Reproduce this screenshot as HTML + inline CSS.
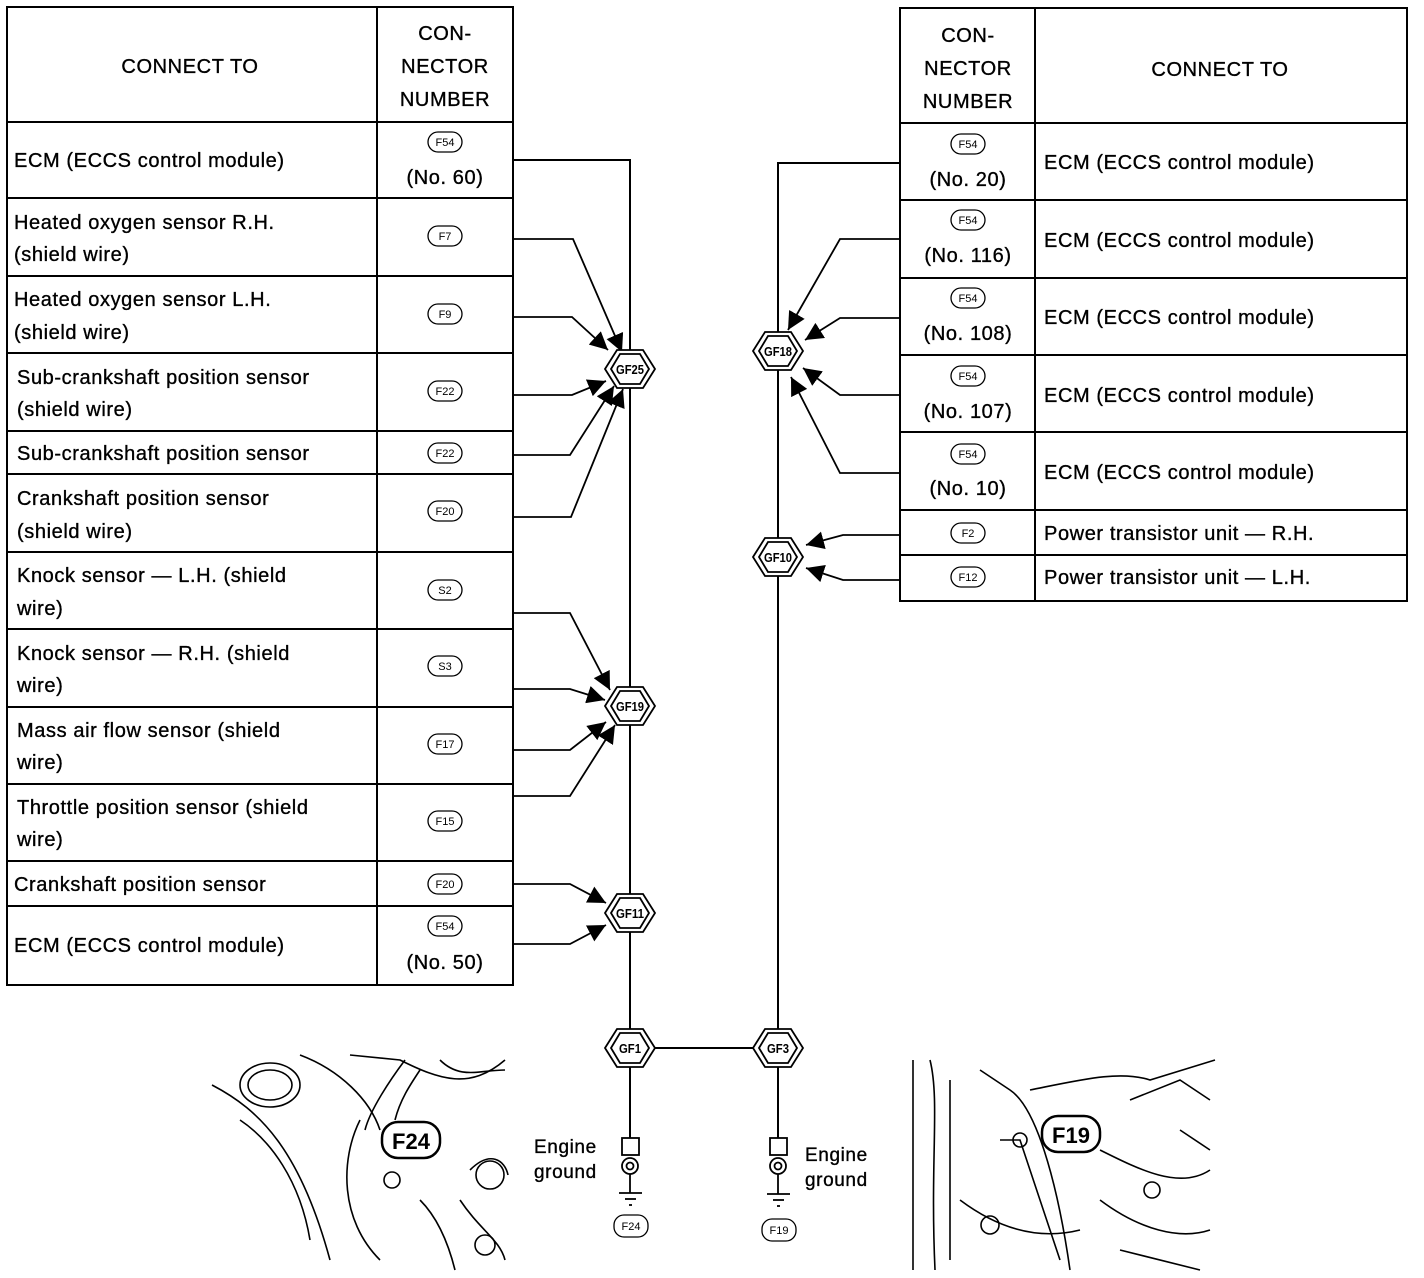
<!DOCTYPE html>
<html><head><meta charset="utf-8"><style>
html,body{margin:0;padding:0;background:#fff;}
svg{display:block;font-family:"Liberation Sans",sans-serif;}
.t{font-size:20px;letter-spacing:0.6px;stroke:#000;stroke-width:0.35px;}
.c{font-size:11px;text-anchor:middle;}
.h{font-size:13px;font-weight:bold;text-anchor:middle;}
</style></head><body>
<svg width="1424" height="1278" viewBox="0 0 1424 1278" xmlns="http://www.w3.org/2000/svg">
<defs>
<marker id="b" viewBox="0 0 10 10" refX="10" refY="5" markerWidth="18" markerHeight="18" markerUnits="userSpaceOnUse" orient="auto"><path d="M0,0L10,5L0,10z"/></marker>
</defs>
<g fill="none" stroke="#000">
<rect x="7" y="7" width="506" height="978" stroke-width="2"/>
<line x1="377" y1="7" x2="377" y2="985" stroke-width="2"/>
<g stroke-width="2">
<line x1="7" y1="122" x2="513" y2="122"/><line x1="7" y1="198" x2="513" y2="198"/><line x1="7" y1="276" x2="513" y2="276"/><line x1="7" y1="353" x2="513" y2="353"/><line x1="7" y1="431" x2="513" y2="431"/><line x1="7" y1="474" x2="513" y2="474"/><line x1="7" y1="552" x2="513" y2="552"/><line x1="7" y1="629" x2="513" y2="629"/><line x1="7" y1="707" x2="513" y2="707"/><line x1="7" y1="784" x2="513" y2="784"/><line x1="7" y1="861" x2="513" y2="861"/><line x1="7" y1="906" x2="513" y2="906"/>
</g>
<rect x="900" y="8" width="507" height="593" stroke-width="2"/>
<line x1="1035" y1="8" x2="1035" y2="601" stroke-width="2"/>
<g stroke-width="2">
<line x1="900" y1="123" x2="1407" y2="123"/><line x1="900" y1="200" x2="1407" y2="200"/><line x1="900" y1="278" x2="1407" y2="278"/><line x1="900" y1="355" x2="1407" y2="355"/><line x1="900" y1="432" x2="1407" y2="432"/><line x1="900" y1="510" x2="1407" y2="510"/><line x1="900" y1="555" x2="1407" y2="555"/>
</g>
<g stroke-width="2">
<polyline points="513,160 630,160 630,1048"/>
<polyline points="900,163 778,163 778,1048"/>
<line x1="630" y1="1048" x2="778" y2="1048"/>
<line x1="630" y1="1048" x2="630" y2="1138"/>
<line x1="778" y1="1048" x2="778" y2="1138"/>
</g>
<g stroke-width="1.8" marker-end="url(#b)">
<polyline points="513,239 573,239 622,352"/>
<polyline points="513,317 572,317 608,350"/>
<polyline points="513,395 572,395 606,381"/>
<polyline points="513,455 570,455 614,386"/>
<polyline points="513,517 571,517 623,389"/>
<polyline points="513,613 570,613 610,690"/>
<polyline points="513,689 570,689 605,700"/>
<polyline points="513,750 570,750 606,722"/>
<polyline points="513,796 570,796 615,725"/>
<polyline points="513,884 570,884 606,903"/>
<polyline points="513,944 570,944 606,925"/>
<polyline points="900,239 840,239 788,330"/>
<polyline points="900,318 840,318 805,340"/>
<polyline points="900,395 840,395 803,368"/>
<polyline points="900,473 840,473 791,377"/>
<polyline points="900,535 843,535 806,545"/>
<polyline points="900,580 843,580 806,568"/>
</g>
</g>
<g stroke="#000" fill="#fff" stroke-width="1.8">
<polygon points="605,369 617,350 643,350 655,369 643,388 617,388"/>
<polygon points="611,369 620,354 640,354 649,369 640,384 620,384"/>
<polygon points="605,706 617,687 643,687 655,706 643,725 617,725"/>
<polygon points="611,706 620,691 640,691 649,706 640,721 620,721"/>
<polygon points="605,913 617,894 643,894 655,913 643,932 617,932"/>
<polygon points="611,913 620,898 640,898 649,913 640,928 620,928"/>
<polygon points="605,1048 617,1029 643,1029 655,1048 643,1067 617,1067"/>
<polygon points="611,1048 620,1033 640,1033 649,1048 640,1063 620,1063"/>
<polygon points="753,351 765,332 791,332 803,351 791,370 765,370"/>
<polygon points="759,351 768,336 788,336 797,351 788,366 768,366"/>
<polygon points="753,557 765,538 791,538 803,557 791,576 765,576"/>
<polygon points="759,557 768,542 788,542 797,557 788,572 768,572"/>
<polygon points="753,1048 765,1029 791,1029 803,1048 791,1067 765,1067"/>
<polygon points="759,1048 768,1033 788,1033 797,1048 788,1063 768,1063"/>
</g>
<g class="h">
<text x="630" y="374" class="h" textLength="28" lengthAdjust="spacingAndGlyphs">GF25</text><text x="630" y="711" class="h" textLength="28" lengthAdjust="spacingAndGlyphs">GF19</text><text x="630" y="918" class="h" textLength="28" lengthAdjust="spacingAndGlyphs">GF11</text><text x="630" y="1053" class="h" textLength="22" lengthAdjust="spacingAndGlyphs">GF1</text>
<text x="778" y="356" class="h" textLength="28" lengthAdjust="spacingAndGlyphs">GF18</text><text x="778" y="562" class="h" textLength="28" lengthAdjust="spacingAndGlyphs">GF10</text><text x="778" y="1053" class="h" textLength="22" lengthAdjust="spacingAndGlyphs">GF3</text>
</g>
<g stroke="#000" fill="#fff" stroke-width="1.8">
<rect x="622" y="1138" width="17" height="17"/><circle cx="630" cy="1166" r="8"/><circle cx="630" cy="1166" r="3.5"/>
<line x1="630" y1="1174" x2="630" y2="1193"/><line x1="619" y1="1193" x2="642" y2="1193"/><line x1="625" y1="1199" x2="636" y2="1199"/><line x1="629" y1="1205" x2="632" y2="1205"/>
<rect x="770" y="1138" width="17" height="17"/><circle cx="778" cy="1166" r="8"/><circle cx="778" cy="1166" r="3.5"/>
<line x1="778" y1="1174" x2="778" y2="1194"/><line x1="767" y1="1194" x2="790" y2="1194"/><line x1="773" y1="1200" x2="784" y2="1200"/><line x1="777" y1="1206" x2="780" y2="1206"/>
</g>
<g stroke="#000" fill="#fff" stroke-width="1.3">
<rect x="428" y="132" width="34" height="20" rx="10"/><rect x="428" y="226" width="34" height="20" rx="10"/><rect x="428" y="304" width="34" height="20" rx="10"/><rect x="428" y="381" width="34" height="20" rx="10"/><rect x="428" y="443" width="34" height="20" rx="10"/><rect x="428" y="501" width="34" height="20" rx="10"/><rect x="428" y="580" width="34" height="20" rx="10"/><rect x="428" y="656" width="34" height="20" rx="10"/><rect x="428" y="734" width="34" height="20" rx="10"/><rect x="428" y="811" width="34" height="20" rx="10"/><rect x="428" y="874" width="34" height="20" rx="10"/><rect x="428" y="916" width="34" height="20" rx="10"/>
<rect x="951" y="134" width="34" height="20" rx="10"/><rect x="951" y="210" width="34" height="20" rx="10"/><rect x="951" y="288" width="34" height="20" rx="10"/><rect x="951" y="366" width="34" height="20" rx="10"/><rect x="951" y="444" width="34" height="20" rx="10"/><rect x="951" y="523" width="34" height="20" rx="10"/><rect x="951" y="567" width="34" height="20" rx="10"/>
<rect x="614" y="1215" width="34" height="22" rx="10"/><rect x="762" y="1219" width="34" height="22" rx="10"/>
</g>
<g class="c">
<text x="445" y="146" class="c">F54</text><text x="445" y="240" class="c">F7</text><text x="445" y="318" class="c">F9</text><text x="445" y="395" class="c">F22</text><text x="445" y="457" class="c">F22</text><text x="445" y="515" class="c">F20</text><text x="445" y="594" class="c">S2</text><text x="445" y="670" class="c">S3</text><text x="445" y="748" class="c">F17</text><text x="445" y="825" class="c">F15</text><text x="445" y="888" class="c">F20</text><text x="445" y="930" class="c">F54</text>
<text x="968" y="148" class="c">F54</text><text x="968" y="224" class="c">F54</text><text x="968" y="302" class="c">F54</text><text x="968" y="380" class="c">F54</text><text x="968" y="458" class="c">F54</text><text x="968" y="537" class="c">F2</text><text x="968" y="581" class="c">F12</text>
<text x="631" y="1230" class="c">F24</text><text x="779" y="1234" class="c">F19</text>
</g>
<g class="t">
<text x="190" y="73" text-anchor="middle">CONNECT TO</text>
<text x="445" y="40" text-anchor="middle">CON-</text><text x="445" y="73" text-anchor="middle">NECTOR</text><text x="445" y="106" text-anchor="middle">NUMBER</text>
<text x="14" y="167">ECM (ECCS control module)</text><text x="445" y="184" text-anchor="middle">(No. 60)</text>
<text x="14" y="229">Heated oxygen sensor R.H.</text><text x="14" y="261">(shield wire)</text>
<text x="14" y="306">Heated oxygen sensor L.H.</text><text x="14" y="339">(shield wire)</text>
<text x="17" y="384">Sub-crankshaft position sensor</text><text x="17" y="416">(shield wire)</text>
<text x="17" y="460">Sub-crankshaft position sensor</text>
<text x="17" y="505">Crankshaft position sensor</text><text x="17" y="538">(shield wire)</text>
<text x="17" y="582">Knock sensor — L.H. (shield</text><text x="17" y="615">wire)</text>
<text x="17" y="660">Knock sensor — R.H. (shield</text><text x="17" y="692">wire)</text>
<text x="17" y="737">Mass air flow sensor (shield</text><text x="17" y="769">wire)</text>
<text x="17" y="814">Throttle position sensor (shield</text><text x="17" y="846">wire)</text>
<text x="14" y="891">Crankshaft position sensor</text>
<text x="14" y="952">ECM (ECCS control module)</text><text x="445" y="969" text-anchor="middle">(No. 50)</text>
<text x="968" y="42" text-anchor="middle">CON-</text><text x="968" y="75" text-anchor="middle">NECTOR</text><text x="968" y="108" text-anchor="middle">NUMBER</text>
<text x="1220" y="76" text-anchor="middle">CONNECT TO</text>
<text x="968" y="186" text-anchor="middle">(No. 20)</text><text x="1044" y="169">ECM (ECCS control module)</text>
<text x="968" y="262" text-anchor="middle">(No. 116)</text><text x="1044" y="247">ECM (ECCS control module)</text>
<text x="968" y="340" text-anchor="middle">(No. 108)</text><text x="1044" y="324">ECM (ECCS control module)</text>
<text x="968" y="418" text-anchor="middle">(No. 107)</text><text x="1044" y="402">ECM (ECCS control module)</text>
<text x="968" y="495" text-anchor="middle">(No. 10)</text><text x="1044" y="479">ECM (ECCS control module)</text>
<text x="1044" y="540">Power transistor unit — R.H.</text>
<text x="1044" y="584">Power transistor unit — L.H.</text>
<text x="534" y="1153" style="font-size:19px">Engine</text><text x="534" y="1178" style="font-size:19px">ground</text>
<text x="805" y="1161" style="font-size:19px">Engine</text><text x="805" y="1186" style="font-size:19px">ground</text>
</g>
<g fill="none" stroke="#000" stroke-width="1.6">
<path d="M212,1085 C260,1110 300,1150 330,1260"/>
<ellipse cx="270" cy="1085" rx="30" ry="22"/><ellipse cx="270" cy="1085" rx="22" ry="15"/>
<path d="M300,1055 C340,1070 370,1100 380,1130 M350,1055 L400,1060 C440,1080 470,1090 505,1060"/>
<path d="M360,1120 C340,1160 340,1220 380,1260 M405,1060 C390,1080 370,1110 365,1130 M420,1070 C410,1085 400,1100 395,1120"/>
<path d="M440,1060 C460,1080 480,1070 505,1070 M470,1170 C490,1150 505,1160 508,1175 M460,1200 C480,1230 500,1240 505,1260"/>
<path d="M240,1120 C270,1140 300,1180 310,1240 M420,1200 C440,1220 450,1250 455,1270"/>
<circle cx="392" cy="1180" r="8"/><circle cx="490" cy="1175" r="14"/><circle cx="485" cy="1245" r="10"/>
<rect x="382" y="1122" width="58" height="36" rx="16" stroke-width="2.5" fill="#fff"/>
<path d="M913,1060 L913,1270 M930,1060 C940,1100 930,1160 935,1270 M980,1070 L1010,1090 C1040,1110 1060,1200 1070,1270"/>
<path d="M1000,1140 L1020,1140 L1060,1260 M1030,1090 C1080,1080 1120,1070 1150,1080 L1215,1060 M1100,1150 C1140,1170 1180,1190 1210,1170"/>
<path d="M1130,1100 L1180,1080 L1210,1100 M1100,1200 C1140,1230 1180,1240 1210,1230 M960,1200 C1000,1230 1040,1240 1080,1230"/>
<path d="M950,1080 L950,1260 M1180,1130 L1210,1150 M1120,1250 L1200,1270"/>
<circle cx="1020" cy="1140" r="7"/><circle cx="1152" cy="1190" r="8"/><circle cx="990" cy="1225" r="9"/>
<rect x="1042" y="1116" width="58" height="36" rx="16" stroke-width="2.5" fill="#fff"/>
</g>
<text x="411" y="1149" text-anchor="middle" style="font-size:22px;font-weight:bold">F24</text>
<text x="1071" y="1143" text-anchor="middle" style="font-size:22px;font-weight:bold">F19</text>
</svg>
</body></html>
